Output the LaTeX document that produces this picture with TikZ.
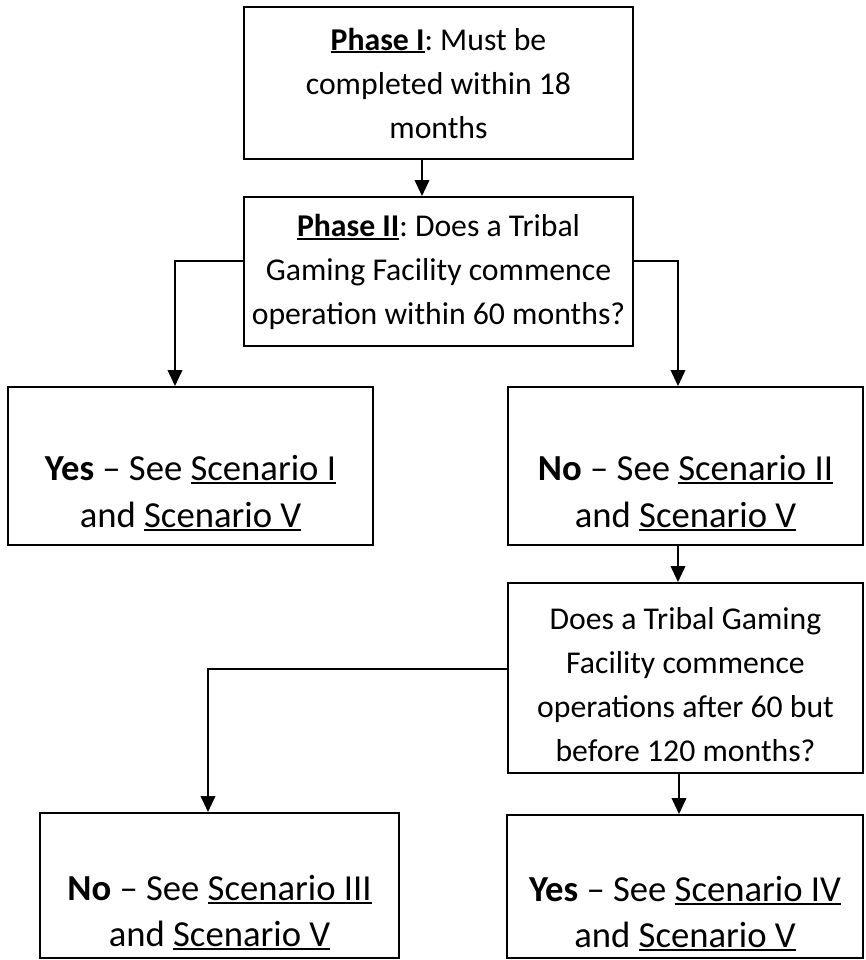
\documentclass[tikz,border=0pt]{standalone}
\usepackage{fontspec}
\setmainfont{Carlito}
\frenchspacing
\usetikzlibrary{positioning,arrows.meta,calc}
% thick underline as in the scanned chart
\newcommand{\undl}[1]{\setbox0\hbox{#1}\rlap{\rule[-2.6pt]{\wd0}{1.5pt}}\box0}

\begin{document}
\begin{tikzpicture}[x=0.75pt, y=-0.75pt,
    qbox/.style={draw, line width=1.5pt, align=center, inner sep=0pt,
                 font=\fontsize{23.8}{33}\selectfont},
    abox/.style={draw, line width=1.5pt, align=center, inner sep=0pt,
                 font=\fontsize{27.5}{35}\selectfont},
    link/.style={line width=1.3pt, -{Triangle[length=12pt, width=11pt]}}]
  \useasboundingbox (0,0) rectangle (866,960);

  \node[qbox, minimum width=291.75pt, minimum height=114pt] (phase1) at (438.5,83)
    {\undl{\textbf{Phase I}}: Must be\\ completed within 18\\ months};
  \node[qbox, minimum width=291.75pt, minimum height=111.75pt] (phase2) at (438.5,271.5)
    {\undl{\textbf{Phase II}}: Does a Tribal\\ Gaming Facility commence\\ operation within 60 months?};
  \node[abox, minimum width=273.75pt, minimum height=118.5pt] (yes60) at (190.5,466)
    {\strut\\ \textbf{Yes} – See \undl{Scenario I}\\ and \undl{Scenario V}};
  \node[abox, minimum width=266.25pt, minimum height=118.5pt] (no60) at (685.5,466)
    {\strut\\ \textbf{No} – See \undl{Scenario II}\\ and \undl{Scenario V}};
  \node[qbox, minimum width=266.25pt, minimum height=142.5pt] (q120) at (685.5,678)
    {\strut\\[-30pt] Does a Tribal Gaming\\ Facility commence\\ operations after 60 but\\ before 120 months?};
  \node[abox, minimum width=269.25pt, minimum height=108.75pt] (no120) at (219.5,885.5)
    {\strut\\ \textbf{No} – See \undl{Scenario III}\\ and \undl{Scenario V}};
  \node[abox, minimum width=267pt, minimum height=107.25pt] (yes120) at (685,886.5)
    {\strut\\ \textbf{Yes} – See \undl{Scenario IV}\\ and \undl{Scenario V}};

  \draw[link] ($(phase1.south)+(-16.5,0)$) -- ($(phase2.north)+(-16.5,0)$);
  \draw[link] ($(phase2.west)+(0,-10.5)$) -| ($(yes60.north)+(-15.5,0)$);
  \draw[link] ($(phase2.east)+(0,-10.5)$) -| ($(no60.north)+(-7.5,0)$);
  \draw[link] ($(no60.south)+(-7.5,0)$) -- ($(q120.north)+(-7.5,0)$);
  \draw[link] ($(q120.west)+(0,-9)$) -| ($(no120.north)+(-11.5,0)$);
  \draw[link] ($(q120.south)+(-6.5,0)$) -- ($(yes120.north)+(-6,0)$);
\end{tikzpicture}
\end{document}
